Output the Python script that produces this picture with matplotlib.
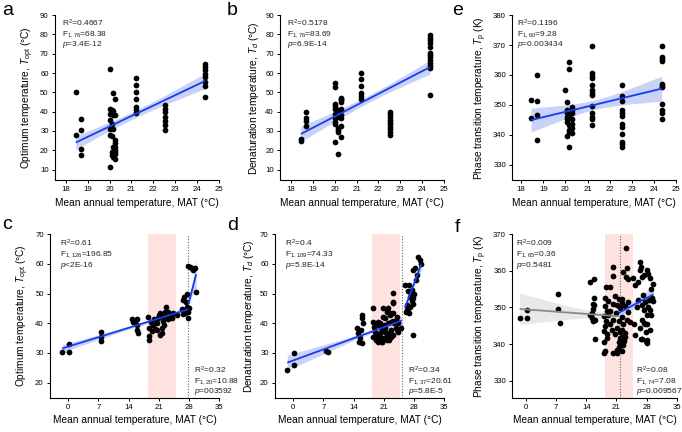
import numpy as np
import matplotlib
matplotlib.use("Agg")
import matplotlib.pyplot as plt

plt.rcParams['font.family'] = ['Liberation Sans', 'DejaVu Sans']
plt.rcParams['mathtext.fontset'] = 'custom'
plt.rcParams['mathtext.rm'] = 'Liberation Sans'
plt.rcParams['mathtext.it'] = 'Liberation Sans:italic'
plt.rcParams['mathtext.bf'] = 'Liberation Sans:bold'

# ---------------- data ----------------
# panel a : T_opt vs MAT (site level)
a_x = [18.45]*2 + [18.7]*4 + [20.0]*7 + [20.1]*5 + [20.15]*6 + [20.25]*9 + [21.2]*7 + [22.55]*7 + [24.35]*8
a_y = [50.2, 28.0,
       36.4, 30.4, 20.4, 17.3,
       62.0, 11.4, 41.6, 39.0, 35.6, 31.2, 27.8,
       40.8, 33.8, 27.2, 17.7, 19.1,
       49.4, 40.3, 38.2, 30.8, 21.7, 16.6,
       46.5, 38.2, 25.2, 23.8, 20.3, 17.9, 15.2, 19.1, 21.7,
       57.5, 54.0, 50.2, 46.4, 42.5, 40.7, 39.4,
       43.3, 41.6, 39.9, 37.0, 35.2, 33.0, 30.4,
       64.6, 63.2, 61.5, 59.4, 57.7, 55.4, 53.2, 47.6]
a_fit_x = [18.45, 24.35]
a_fit_y = [24.0, 55.8]
a_ci = [3.5, 1.9, 4.0]

# panel b : T_d vs MAT
b_x = [18.45]*2 + [18.7]*4 + [20.03]*10 + [20.15]*6 + [20.27]*9 + [21.2]*6 + [22.55]*10 + [24.35]*13
b_y = [26.0, 25.0,
       39.9, 36.5, 35.3, 32.5,
       54.6, 52.5, 43.9, 41.6, 39.0, 36.5, 33.5, 24.4, 42.9, 34.7,
       31.6, 29.6, 18.0, 40.8, 37.3, 30.4,
       38.2, 45.9, 46.8, 45.1, 41.6, 36.5, 32.5, 27.0, 47.3,
       59.8, 56.8, 53.2, 49.4, 48.0, 46.8,
       39.9, 38.7, 37.3, 35.9, 34.7, 33.5, 32.1, 30.8, 29.6, 27.8,
       79.6, 78.4, 77.0, 75.3, 73.6, 70.5, 69.3, 68.1, 66.7, 65.3, 63.6, 62.4, 48.5]
b_fit_x = [18.45, 24.35]
b_fit_y = [28.4, 63.0]
b_ci = [4.0, 1.9, 3.6]

# panel e : T_p vs MAT
e_x = [18.46]*2 + [18.72]*4 + [19.96]*1 + [20.07]*7 + [20.18]*7 + [20.29]*7 + [21.18]*13 + [22.54]*12 + [24.37]*11
e_y = [351.7, 345.7,
       360.1, 351.3, 346.5, 338.1,
       354.9,
       351.0, 348.2, 347.3, 346.0, 345.1, 344.3, 339.5,
       364.2, 362.1, 343.2, 341.5, 335.9, 346.5, 340.9,
       349.3, 348.4, 347.1, 345.4, 343.7, 342.4, 340.6,
       369.6, 360.7, 359.6, 358.8, 356.6, 354.9, 353.8, 353.2, 349.5, 347.1, 346.0, 345.1, 343.4,
       356.6, 352.9, 351.3, 348.2, 347.1, 346.2, 343.7, 342.6, 340.2, 337.6, 336.8, 335.9,
       369.6, 366.1, 365.2, 364.7, 357.1, 356.2, 355.8, 350.2, 348.4, 347.1, 345.4]
e_fit_x = [18.45, 24.35]
e_fit_y = [344.9, 355.4]
e_ci = [4.0, 1.6, 4.2]

# panel c : T_opt vs MAT (global)
c_x = [-1.4, 0.15, 0.15, 7.7, 7.7, 7.7,
       14.7, 15.5, 15.9, 16.0, 16.1, 15.1, 16.0,
       18.4, 18.7, 18.7, 18.8, 19.1,
       19.7, 20.1, 20.5, 20.9, 21.1, 21.3, 21.7, 21.7, 21.9, 22.1, 22.5, 22.7, 22.8, 23.2, 23.6, 24.0,
       20.7, 21.3, 22.2, 19.9, 19.4, 23.2, 24.4,
       25.2, 26.6, 26.3, 26.6, 26.9, 27.5, 27.3, 27.6, 27.9, 27.9, 28.1, 27.5, 27.1,
       27.9, 28.7, 29.4, 29.7, 28.9, 28.3]
c_y = [30.4, 32.9, 30.4, 37.2, 35.5, 34.0,
       41.4, 40.7, 39.4, 37.7, 36.6, 40.3, 41.4,
       42.2, 38.5, 35.7, 34.3, 40.5,
       39.4, 38.0, 40.0, 41.6, 42.8, 43.6, 36.6, 38.3, 40.7, 42.2, 43.9, 45.6, 42.8, 41.4, 42.8, 41.6,
       37.7, 36.0, 39.4, 41.4, 37.4, 43.9, 43.3,
       42.8, 43.0, 44.8, 47.8, 48.9, 49.7, 47.0, 45.6, 41.6, 43.9, 45.0, 44.4, 43.3,
       59.3, 58.5, 58.7, 50.6, 57.9, 59.0]
c_fit1_x = [-1.4, 27.9]
c_fit1_y = [31.5, 44.7]
c_ci1 = [1.3, 0.5, 1.0]
c_fit2_x = [27.9, 29.7]
c_fit2_y = [46.5, 56.5]
c_ci2 = [1.6, 1.2, 5.0]
c_band = [18.4, 24.9]
c_break = 27.9

# panel d : T_d vs MAT (global)
d_x = [-1.4, 0.2, 0.2, 7.7, 8.1,
       14.7, 15.1, 15.5, 15.9, 16.0, 16.0, 16.1, 15.7, 15.2,
       18.4, 18.6, 18.7, 19.0, 19.1, 19.4, 19.7, 20.1, 20.5, 20.9, 21.1, 21.4, 21.7, 21.9, 22.1, 22.5,
       22.7, 22.8, 23.1, 23.2, 23.2, 23.2, 23.5, 23.8, 24.0, 24.2, 24.4, 21.3, 20.5, 22.2, 19.6, 21.7, 25.0, 19.9,
       20.9, 21.7, 22.4, 23.1, 20.9, 20.1, 19.0, 18.6, 19.4, 20.5, 21.7, 22.8, 24.0, 24.4, 22.1, 21.3, 20.1, 23.2,
       26.2, 26.6, 25.9, 26.9, 26.6, 27.1, 27.5, 27.9, 27.9, 28.1, 27.6, 27.9, 28.3, 28.7, 28.4,
       29.0, 29.4, 29.7, 27.9, 26.3, 27.1, 27.0, 26.4, 26.8, 27.4]
d_y = [24.3, 29.9, 25.9, 30.7, 30.4,
       38.3, 36.6, 34.9, 33.2, 42.8, 41.6, 40.0, 37.7, 33.8,
       45.2, 40.5, 38.8, 37.2, 34.3, 36.0, 33.8, 35.5, 37.7, 34.9, 39.4, 41.6, 43.9, 36.6, 45.0, 42.8,
       40.5, 37.7, 36.0, 43.3, 47.0, 50.3, 40.0, 38.3, 42.2, 40.5, 37.2, 38.3, 33.8, 34.3, 40.5, 36.0, 38.3, 39.4,
       45.0, 44.5, 43.4, 46.8, 42.2, 40.0, 39.4, 35.5, 34.4, 33.8, 34.4, 35.5, 37.8, 40.0, 40.0, 37.2, 36.6, 40.6,
       43.9, 45.0, 52.8, 52.8, 50.8, 48.9, 47.5, 46.3, 48.6, 50.0, 51.2, 57.9, 58.7, 56.2, 54.5,
       62.4, 61.3, 59.8, 36.0, 46.1, 45.6, 50.6, 44.5, 43.4, 48.9]
d_fit1_x = [-1.4, 25.2]
d_fit1_y = [26.7, 40.9]
d_ci1 = [2.6, 0.6, 1.2]
d_fit2_x = [25.9, 29.7]
d_fit2_y = [45.0, 59.8]
d_ci2 = [1.5, 0.9, 2.0]
d_band = [18.35, 24.9]
d_break = 25.2

# panel f : T_p vs MAT (global)
f_x = [-1.5, 0.15, 0.15, 7.5, 7.5, 7.9,
       14.9, 15.9, 15.9, 15.8, 15.3, 14.9, 16.0, 15.6, 16.0, 15.5, 15.6, 15.3,
       23.2, 20.3, 20.3, 18.6, 19.4, 22.6, 23.2, 23.8, 24.9, 23.4,
       18.4, 19.1, 18.4, 18.7, 18.0, 18.6, 18.4, 18.0, 18.7, 18.2, 18.2, 18.3, 18.7, 19.1,
       20.7, 21.5, 21.1, 21.8, 20.9, 22.2, 21.5, 22.6, 21.1, 21.8, 20.7, 22.2, 21.5, 22.6, 21.5, 21.1, 21.2, 23.0,
       20.3, 22.3, 22.7, 21.9, 22.3, 20.3, 22.3, 24.1, 23.0,
       23.8, 23.5, 23.8, 19.5, 19.9, 19.6, 20.2, 22.9, 22.4,
       26.5, 26.6, 28.0, 28.4, 28.7, 26.5, 26.9, 26.1, 29.6, 25.3, 27.5,
       26.1, 26.9, 27.6, 28.6, 27.3, 28.0, 26.9, 27.6, 26.5, 27.9, 26.9, 28.0, 28.4, 29.2, 28.9,
       25.1, 26.6, 28.0, 28.8, 28.0, 29.5, 27.2, 29.0, 25.7, 25.4, 27.5, 27.9, 29.1]
f_y = [347.2, 347.2, 349.3, 353.6, 349.5, 345.8,
       357.0, 357.7, 352.5, 350.6, 348.5, 347.9, 346.5, 346.3, 341.5, 349.7, 350.9, 347.1,
       366.3, 361.1, 358.6, 355.6, 355.6, 359.7, 358.4, 357.9, 358.1, 360.7,
       352.7, 351.8, 350.4, 349.1, 347.7, 346.3, 344.9, 343.6, 342.7, 340.6, 337.5, 338.1, 341.7, 348.0,
       353.1, 352.2, 350.8, 349.9, 348.4, 347.5, 346.3, 345.4, 344.3, 343.4, 342.7, 342.0, 340.6, 339.7, 339.3, 337.5, 338.4, 342.0,
       337.6, 338.1, 340.8, 341.7, 343.9, 346.6, 351.1, 346.1, 343.0,
       348.8, 346.6, 351.5, 345.4, 343.9, 349.0, 351.0, 350.5, 352.3,
       362.3, 361.1, 360.2, 359.0, 358.1, 360.2, 358.4, 357.0, 356.3, 356.1, 358.9,
       352.0, 350.6, 351.5, 352.0, 349.3, 347.9, 346.6, 345.4, 344.3, 343.4, 341.5, 341.2, 350.2, 352.5, 349.3,
       345.6, 341.4, 340.2, 343.8, 345.5, 351.8, 353.5, 355.0, 350.2, 342.5, 345.7, 340.8, 347.9]
f_fit1_x = [-1.5, 21.5]
f_fit1_y = [349.6, 347.6]
f_ci1 = [4.3, 1.0, 1.6]
f_fit2_x = [21.5, 29.6]
f_fit2_y = [348.5, 353.6]
f_ci2 = [1.2, 1.0, 2.3]
f_band = [18.4, 24.9]
f_break = 21.8

# statistics text
a_stats = ['R$^2$=0.4667', 'F$_{\\mathrm{1,76}}$=68.38', '$\\mathit{p}$=3.4E-12']
b_stats = ['R$^2$=0.5178', 'F$_{\\mathrm{1,76}}$=83.69', '$\\mathit{p}$=6.9E-14']
e_stats = ['R$^2$=0.1196', 'F$_{\\mathrm{1,60}}$=9.28', '$\\mathit{p}$=0.003434']
c_stats1 = ['R$^2$=0.61', 'F$_{\\mathrm{1,126}}$=196.85', '$\\mathit{p}$<2E-16']
c_stats2 = ['R$^2$=0.32', 'F$_{\\mathrm{1,20}}$=10.88', '$\\mathit{p}$=003592']
d_stats1 = ['R$^2$=0.4', 'F$_{\\mathrm{1,109}}$=74.33', '$\\mathit{p}$=5.8E-14']
d_stats2 = ['R$^2$=0.34', 'F$_{\\mathrm{1,37}}$=20.61', '$\\mathit{p}$=5.8E-5']
f_stats1 = ['R$^2$=0.009', 'F$_{\\mathrm{1,65}}$=0.36', '$\\mathit{p}$=0.5481']
f_stats2 = ['R$^2$=0.08', 'F$_{\\mathrm{1,74}}$=7.08', '$\\mathit{p}$=0.009567']

xlabel = 'Mean annual temperature, MAT (°C)'
ylab_opt = 'Optimum temperature, $\\mathit{T}_{\\mathrm{opt}}$ (°C)'
ylab_d = 'Denaturation temperature, $\\mathit{T}_{\\mathit{d}}$ (°C)'
ylab_p = 'Phase transition temperature, $\\mathit{T}_{\\mathrm{p}}$ (K)'

top_xticks = [18, 19, 20, 21, 22, 23, 24, 25]
bot_xticks = [0, 7, 14, 21, 28, 35]

# ---------------- style ----------------
BLUE = '#1a3cf0'
BLUE_BAND = '#c9d2f7'
GRAY = '#8a8a8a'
GRAY_BAND = '#e8e8e8'
PINK = '#fde2e0'
TICK_FS = 5.6
LAB_FS = 7.3
STAT_FS = 6.0

fig = plt.figure(figsize=(6.82, 4.32), dpi=100)


def hw_curve(x, x0, x1, ci):
    h0, hm, h1 = ci
    a0 = np.sqrt(max(h0**2 - hm**2, 1e-6))
    a1 = np.sqrt(max(h1**2 - hm**2, 1e-6))
    r = a0 / a1
    xc = (x0 + r * x1) / (1 + r)
    s = a0 / (xc - x0)
    return np.sqrt(hm**2 + s**2 * (x - xc)**2)


def fit_line(ax, fx, fy, ci, color, band_color):
    xs = np.linspace(fx[0], fx[1], 100)
    ys = np.interp(xs, fx, fy)
    hw = hw_curve(xs, fx[0], fx[1], ci)
    ax.fill_between(xs, ys - hw, ys + hw, color=band_color, lw=0, zorder=1.5)
    ax.plot(xs, ys, color=color, lw=1.3, zorder=4, solid_capstyle='butt')


def style(ax, xlim, ylim, xticks, yticks, ylabel):
    ax.set_xlim(*xlim)
    ax.set_ylim(*ylim)
    ax.set_xticks(xticks)
    ax.set_yticks(yticks)
    for s in ['top', 'right']:
        ax.spines[s].set_visible(False)
    for s in ['left', 'bottom']:
        ax.spines[s].set_linewidth(0.8)
    ax.tick_params(direction='out', length=2.5, width=0.7, labelsize=TICK_FS, pad=2)
    ax.set_xlabel(xlabel, fontsize=LAB_FS, labelpad=3)
    ax.set_ylabel(ylabel, fontsize=LAB_FS, labelpad=3)


def stats(ax, x, y, lines, dy=0.062):
    for i, t in enumerate(lines):
        ax.text(x, y - i * dy, t, transform=ax.transAxes, fontsize=STAT_FS,
                va='baseline', ha='left', color='#222222', zorder=6)


def scatter(ax, x, y):
    ax.scatter(x, y, s=17, color='black', lw=0, zorder=3)


# top row
ax_a = fig.add_axes([0.0806, 0.583, 0.2404, 0.382])
ax_b = fig.add_axes([0.4106, 0.583, 0.2404, 0.382])
ax_e = fig.add_axes([0.7512, 0.583, 0.2400, 0.382])
# bottom row
ax_c = fig.add_axes([0.0733, 0.0794, 0.2478, 0.3786])
ax_d = fig.add_axes([0.4032, 0.0794, 0.2478, 0.3786])
ax_f = fig.add_axes([0.7512, 0.0794, 0.2410, 0.3786])

# a
scatter(ax_a, a_x, a_y)
fit_line(ax_a, a_fit_x, a_fit_y, a_ci, BLUE, BLUE_BAND)
style(ax_a, (17.5, 25), (4.5, 90), top_xticks, range(10, 91, 10), ylab_opt)
stats(ax_a, 0.04, 0.93, a_stats, dy=0.058)

# b
scatter(ax_b, b_x, b_y)
fit_line(ax_b, b_fit_x, b_fit_y, b_ci, BLUE, BLUE_BAND)
style(ax_b, (17.5, 25), (4.5, 90), top_xticks, range(10, 91, 10), ylab_d)
stats(ax_b, 0.04, 0.93, b_stats, dy=0.058)

# e
scatter(ax_e, e_x, e_y)
fit_line(ax_e, e_fit_x, e_fit_y, e_ci, BLUE, BLUE_BAND)
style(ax_e, (17.6, 25), (324.8, 380), top_xticks, range(330, 381, 10), ylab_p)
stats(ax_e, 0.03, 0.93, e_stats, dy=0.058)

# c
ax_c.axvspan(c_band[0], c_band[1], color=PINK, lw=0, zorder=0)
ax_c.axvline(c_break, color='#666666', ls=(0, (1, 1.5)), lw=0.8, zorder=1)
scatter(ax_c, c_x, c_y)
fit_line(ax_c, c_fit1_x, c_fit1_y, c_ci1, BLUE, BLUE_BAND)
fit_line(ax_c, c_fit2_x, c_fit2_y, c_ci2, BLUE, BLUE_BAND)
style(ax_c, (-4.25, 35), (14.9, 70), bot_xticks, range(20, 71, 10), ylab_opt)
stats(ax_c, 0.06, 0.925, c_stats1)
stats(ax_c, 0.855, 0.15, c_stats2)

# d
ax_d.axvspan(d_band[0], d_band[1], color=PINK, lw=0, zorder=0)
ax_d.axvline(d_break, color='#666666', ls=(0, (1, 1.5)), lw=0.8, zorder=1)
scatter(ax_d, d_x, d_y)
fit_line(ax_d, d_fit1_x, d_fit1_y, d_ci1, BLUE, BLUE_BAND)
fit_line(ax_d, d_fit2_x, d_fit2_y, d_ci2, BLUE, BLUE_BAND)
style(ax_d, (-4.25, 35), (14.9, 70), bot_xticks, range(20, 71, 10), ylab_d)
stats(ax_d, 0.06, 0.925, d_stats1)
stats(ax_d, 0.79, 0.15, d_stats2)

# f
ax_f.axvspan(f_band[0], f_band[1], color=PINK, lw=0, zorder=0)
ax_f.axvline(f_break, color='#666666', ls=(0, (1, 1.5)), lw=0.8, zorder=1)
scatter(ax_f, f_x, f_y)
fit_line(ax_f, f_fit1_x, f_fit1_y, f_ci1, GRAY, GRAY_BAND)
fit_line(ax_f, f_fit2_x, f_fit2_y, f_ci2, BLUE, BLUE_BAND)
style(ax_f, (-3.2, 35), (325.4, 370), bot_xticks, range(330, 371, 10), ylab_p)
stats(ax_f, 0.02, 0.925, f_stats1)
stats(ax_f, 0.75, 0.15, f_stats2)

# panel letters
for lab, px, py in [('a', 2, 15), ('b', 227, 15), ('e', 452, 15),
                    ('c', 2, 229), ('d', 227, 230), ('f', 455, 232)]:
    fig.text(px / 682, 1 - py / 432, lab, fontsize=14, ha='left', va='baseline')

fig.savefig('out.png', dpi=100)
